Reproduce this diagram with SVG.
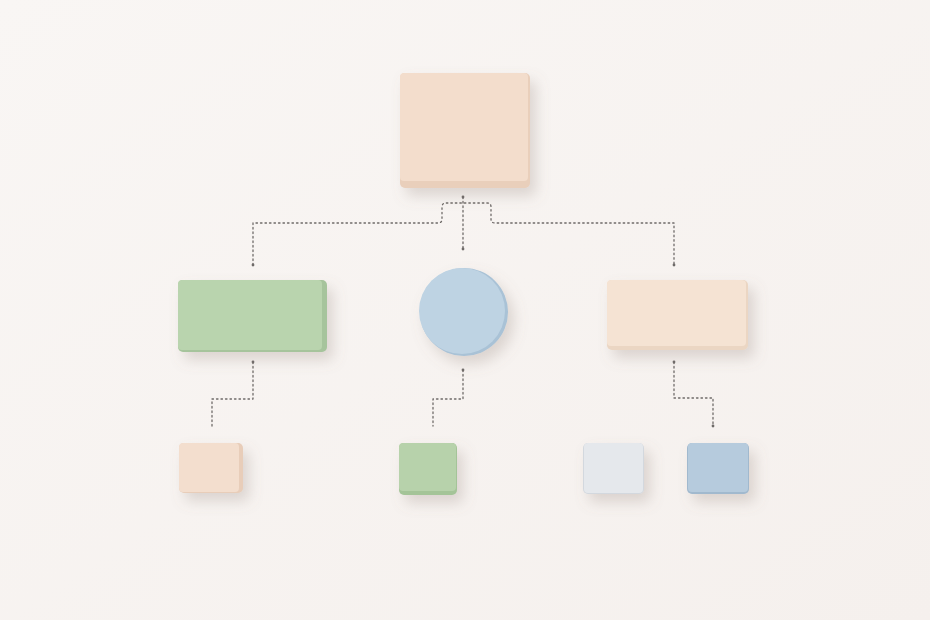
<svg xmlns="http://www.w3.org/2000/svg" width="930" height="620" viewBox="0 0 930 620">
<defs>
<filter id="sh" x="-30%" y="-30%" width="170%" height="180%">
<feDropShadow dx="6" dy="8" stdDeviation="7" flood-color="#8a7a70" flood-opacity="0.26"/>
</filter>
<linearGradient id="bg" x1="0" y1="0" x2="1" y2="1">
<stop offset="0" stop-color="#f9f6f4"/>
<stop offset="1" stop-color="#f5f0ed"/>
</linearGradient>
</defs>
<style>
.link{fill:none;stroke:#6e6a68;stroke-width:1.3;stroke-dasharray:1.5 3;stroke-linecap:round;stroke-linejoin:round}
.dot{fill:#6e6a68}
</style>
<rect width="930" height="620" fill="url(#bg)"/>

<g id="connectors">
<path class="link" d="M463 197 V249"/>
<path class="link" d="M253 265 V223 H438 Q442 223 442 219 V207 Q442 203 446 203 H487 Q491 203 491 207 V219 Q491 223 495 223 H674 V265"/>
<path class="link" d="M253 362 V399 H212 V426"/>
<path class="link" d="M463 370 V399 H433 V426"/>
<path class="link" d="M674 362 V398 H713 V426"/>
<circle class="dot" cx="463" cy="197" r="1.4"/>
<circle class="dot" cx="463" cy="249" r="1.4"/>
<circle class="dot" cx="253" cy="265" r="1.4"/>
<circle class="dot" cx="674" cy="265" r="1.4"/>
<circle class="dot" cx="253" cy="362" r="1.4"/>
<circle class="dot" cx="463" cy="370" r="1.4"/>
<circle class="dot" cx="674" cy="362" r="1.4"/>
<circle class="dot" cx="713" cy="426" r="1.4"/>
</g>

<g id="root" filter="url(#sh)">
<rect x="400" y="73" width="130" height="115" rx="5" fill="#e9cfbb"/>
<rect x="400" y="73" width="128" height="108" rx="4" fill="#f3ddcc"/>
</g>

<g id="green-block" filter="url(#sh)">
<rect x="178" y="280" width="149" height="72" rx="5" fill="#a6c49c"/>
<rect x="178" y="280" width="144" height="70" rx="4" fill="#b9d4ae"/>
</g>

<g id="blue-circle" filter="url(#sh)">
<circle cx="464" cy="312" r="44" fill="#a9c2d6"/>
<circle cx="462" cy="311" r="43" fill="#bed3e3"/>
</g>

<g id="beige-block" filter="url(#sh)">
<rect x="607" y="280" width="141" height="70" rx="5" fill="#ebd6c3"/>
<rect x="607" y="280" width="139" height="66" rx="4" fill="#f5e3d3"/>
</g>

<g id="small-beige" filter="url(#sh)">
<rect x="179" y="443" width="64" height="50" rx="5" fill="#e8cdb9"/>
<rect x="179" y="443" width="60" height="49" rx="4" fill="#f3dece"/>
</g>

<g id="small-green" filter="url(#sh)">
<rect x="399" y="443" width="58" height="52" rx="5" fill="#a4c498"/>
<rect x="399" y="443" width="57" height="48" rx="4" fill="#b7d2ab"/>
</g>

<g id="small-white" filter="url(#sh)">
<rect x="583" y="443" width="61" height="51" rx="5" fill="#d3d8de"/>
<rect x="584" y="443" width="59" height="50" rx="4" fill="#e5e8ec"/>
</g>

<g id="small-blue" filter="url(#sh)">
<rect x="687" y="443" width="62" height="51" rx="5" fill="#a1b9ce"/>
<rect x="688" y="443" width="60" height="49" rx="4" fill="#b6cbdd"/>
</g>
</svg>
